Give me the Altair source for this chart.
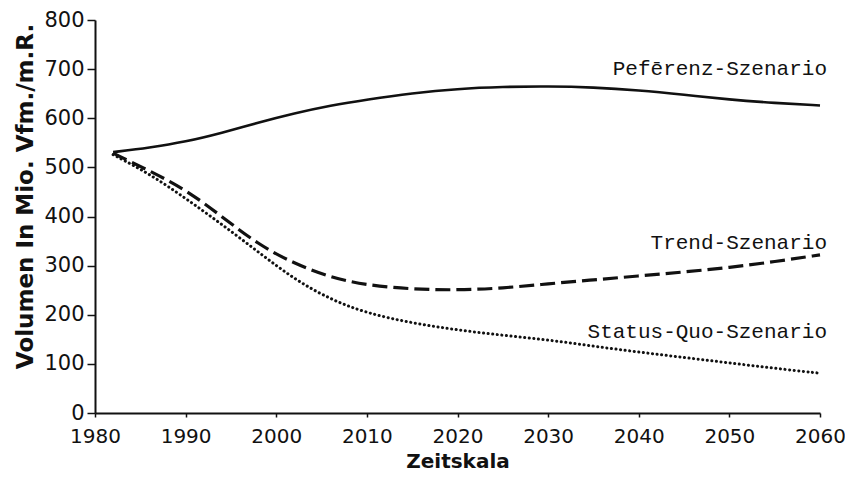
import altair as alt
import pandas as pd

years = [1982, 1986, 1990, 1994, 1998, 2002, 2006, 2010, 2015, 2020,
         2025, 2030, 2035, 2040, 2045, 2050, 2055, 2060]
referenz = [531, 540, 552, 570, 591, 610, 626, 638, 651, 660,
            664, 665, 663, 657, 648, 638, 631, 626]
trend = [529, 493, 455, 400, 343, 304, 276, 260, 252, 250,
         254, 263, 271, 279, 287, 296, 308, 322]
status_quo = [526, 487, 437, 384, 328, 272, 231, 203, 183, 169,
              158, 149, 136, 124, 113, 102, 91, 81]

label_names = ["Pefērenz-Szenario", "Trend-Szenario", "Status-Quo-Szenario"]
label_x = [2060, 2060, 2060]
label_y = [700, 347, 165]

x_ticks = [1980, 1990, 2000, 2010, 2020, 2030, 2040, 2050, 2060]
y_ticks = [0, 100, 200, 300, 400, 500, 600, 700, 800]

x_scale = alt.Scale(domain=[1980, 2060], nice=False, zero=False)
y_scale = alt.Scale(domain=[0, 800], nice=False)

x_axis = alt.Axis(title="Zeitskala", values=x_ticks, format="d", grid=False,
                  tickSize=4, labelPadding=9, labelFont="DejaVu Sans", labelFontSize=20,
                  labelColor="#111", labelFlush=False, titleFont="DejaVu Sans",
                  titleFontSize=20, titleFontWeight="bold", titlePadding=5,
                  titleColor="#111", domainColor="#111", domainWidth=2,
                  tickColor="#111", tickWidth=1.5)
y_axis = alt.Axis(title="Volumen In Mio. Vfm./m.R.", values=y_ticks, grid=False,
                  tickSize=8, labelPadding=3, labelFont="DejaVu Sans", labelFontSize=21,
                  labelColor="#111", titleFont="DejaVu Sans", titleFontSize=23,
                  titleFontWeight="bold", titleX=-58, titleY=176, titleColor="#111",
                  domainColor="#111", domainWidth=2, tickColor="#111", tickWidth=1.5)

def series_df(vals):
    return pd.DataFrame({"Jahr": years, "Volumen": vals})

ref_line = alt.Chart(series_df(referenz)).mark_line(
    color="#111", strokeWidth=2.6, interpolate="basis"
).encode(x=alt.X("Jahr:Q", scale=x_scale, axis=x_axis),
         y=alt.Y("Volumen:Q", scale=y_scale, axis=y_axis))

trend_line = alt.Chart(series_df(trend)).mark_line(
    color="#111", strokeWidth=3.2, strokeDash=[15, 6], interpolate="basis"
).encode(x=alt.X("Jahr:Q", scale=x_scale), y=alt.Y("Volumen:Q", scale=y_scale))

status_line = alt.Chart(series_df(status_quo)).mark_line(
    color="#111", strokeWidth=3, strokeDash=[0.1, 4.5], strokeCap="round",
    interpolate="basis"
).encode(x=alt.X("Jahr:Q", scale=x_scale), y=alt.Y("Volumen:Q", scale=y_scale))

labels_df = pd.DataFrame({"name": label_names, "x": label_x, "y": label_y})
labels = alt.Chart(labels_df).mark_text(
    font="Liberation Mono", fontSize=21, align="right", baseline="middle",
    color="#111", dx=7
).encode(x=alt.X("x:Q", scale=x_scale), y=alt.Y("y:Q", scale=y_scale), text="name:N")

chart = alt.layer(ref_line, trend_line, status_line, labels).properties(
    width=725, height=393,
    autosize=alt.AutoSizeParams(type="none"),
    padding={"left": 87, "top": 12, "right": 25, "bottom": 58},
    background="white"
).configure_view(stroke=None)

chart.save("out.html", embed_options={"renderer": "svg", "actions": False})
